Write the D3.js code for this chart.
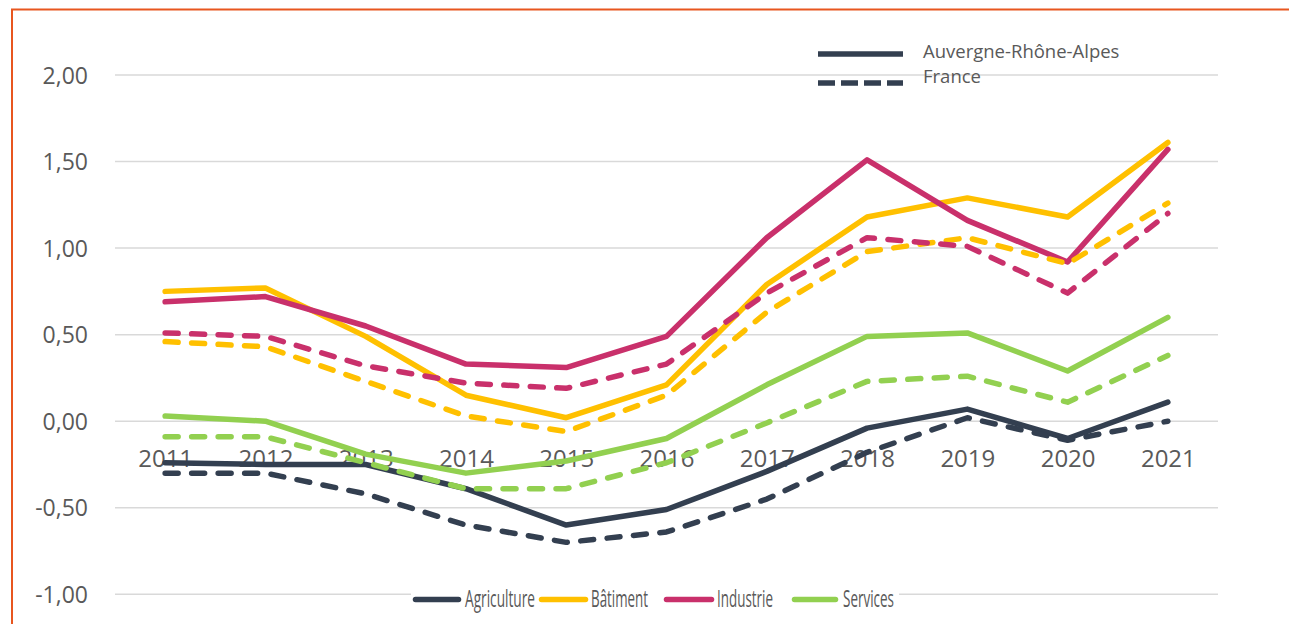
<!DOCTYPE html>
<html>
<head>
<meta charset="utf-8">
<script src="https://cdn.jsdelivr.net/npm/d3@7"></script>
<style>
  html, body { margin: 0; padding: 0; background: #fff; }
  #chart { width: 1289px; height: 624px; }
  text { font-family: "Open Sans", sans-serif; fill: #595959; }
</style>
</head>
<body>
<div id="chart"></div>
<script>
// Data
let years = ['2011', '2012', '2013', '2014', '2015', '2016', '2017', '2018', '2019', '2020', '2021']
let yTicks = [-1, -0.5, 0, 0.5, 1, 1.5, 2]

let agricultureAra = [-0.24, -0.25, -0.25, -0.39, -0.60, -0.51, -0.29, -0.04, 0.07, -0.10, 0.11]
let batimentAra = [0.75, 0.77, 0.49, 0.15, 0.02, 0.21, 0.79, 1.18, 1.29, 1.18, 1.61]
let industrieAra = [0.69, 0.72, 0.55, 0.33, 0.31, 0.49, 1.06, 1.51, 1.16, 0.92, 1.57]
let servicesAra = [0.03, 0.00, -0.19, -0.30, -0.23, -0.10, 0.21, 0.49, 0.51, 0.29, 0.60]

let agricultureFr = [-0.30, -0.30, -0.42, -0.60, -0.70, -0.64, -0.45, -0.18, 0.02, -0.11, 0.00]
let batimentFr = [0.46, 0.43, 0.23, 0.03, -0.06, 0.15, 0.63, 0.98, 1.06, 0.91, 1.26]
let industrieFr = [0.51, 0.49, 0.32, 0.22, 0.19, 0.33, 0.74, 1.06, 1.01, 0.74, 1.20]
let servicesFr = [-0.09, -0.09, -0.24, -0.39, -0.39, -0.24, -0.01, 0.23, 0.26, 0.11, 0.38]

let sectors = ['Agriculture', 'Bâtiment', 'Industrie', 'Services']
let sectorColors = ['#333F50', '#FFC000', '#C9306B', '#92D050']
let scopeLabels = ['Auvergne-Rhône-Alpes', 'France']

let araSeries = [agricultureAra, batimentAra, industrieAra, servicesAra]
let frSeries = [agricultureFr, batimentFr, industrieFr, servicesFr]

let width = 1289
let height = 624
let plotLeft = 115
let plotRight = 1218
let plotTop = 75
let plotBottom = 594.3

let svg = d3.select('#chart')
  .append('svg')
    .attr('width', width)
    .attr('height', height)

// Orange frame (top and left edges visible)
svg.append('path')
  .attr('d', `M12,${height} L12,9.5 L${width},9.5`)
  .attr('fill', 'none')
  .attr('stroke', '#E8561F')
  .attr('stroke-width', 2)

let xScale = d3.scalePoint().domain(years).range([plotLeft, plotRight]).padding(0.5)
let yScale = d3.scaleLinear().domain([-1, 2]).range([plotBottom, plotTop])

let fmt = (d) => d3.format('.2f')(d).replace('.', ',').replace('−', '-')

// Gridlines
svg.append('g')
  .selectAll('line')
  .data(yTicks)
  .enter().append('line')
    .attr('x1', plotLeft)
    .attr('x2', plotRight)
    .attr('y1', (d) => yScale(d))
    .attr('y2', (d) => yScale(d))
    .attr('stroke', '#D9D9D9')
    .attr('stroke-width', 1.5)

// Y axis labels
let yAxis = svg.append('g')
  .attr('transform', `translate(${plotLeft - 27}, 0)`)
  .call(d3.axisLeft(yScale).tickValues(yTicks).tickFormat(fmt).tickSize(0).tickPadding(0))
yAxis.select('.domain').remove()
yAxis.selectAll('text')
  .attr('font-family', '"Open Sans", sans-serif')
  .attr('font-size', 23)
  .attr('fill', '#595959')
  .attr('dy', '0.35em')

// X axis labels, sitting under the zero line
let xAxis = svg.append('g')
  .attr('transform', `translate(0, ${yScale(0)})`)
  .call(d3.axisBottom(xScale).tickSize(0).tickPadding(0))
xAxis.select('.domain').remove()
xAxis.selectAll('text')
  .attr('font-family', '"Open Sans", sans-serif')
  .attr('font-size', 24)
  .attr('fill', '#595959')
  .attr('dy', null)
  .attr('y', 46)

let line = d3.line()
  .x((d, i) => xScale(years[i]))
  .y((d) => yScale(d))

// Solid lines: Auvergne-Rhône-Alpes
araSeries.forEach((values, i) => {
  svg.append('path')
    .datum(values)
    .attr('d', line)
    .attr('fill', 'none')
    .attr('stroke', sectorColors[i])
    .attr('stroke-width', 5.5)
    .attr('stroke-linejoin', 'round')
    .attr('stroke-linecap', 'round')
})

// Dashed lines: France
frSeries.forEach((values, i) => {
  svg.append('path')
    .datum(values)
    .attr('d', line)
    .attr('fill', 'none')
    .attr('stroke', sectorColors[i])
    .attr('stroke-width', 5.5)
    .attr('stroke-dasharray', '13,13.5')
    .attr('stroke-linejoin', 'round')
    .attr('stroke-linecap', 'round')
})

// Top legend (line style)
let styleLegend = svg.append('g')
scopeLabels.forEach((label, i) => {
  let ly = i === 0 ? 54 : 83
  styleLegend.append('line')
    .attr('x1', 818)
    .attr('x2', 903)
    .attr('y1', ly)
    .attr('y2', ly)
    .attr('stroke', '#333F50')
    .attr('stroke-width', 5.5)
    .attr('stroke-dasharray', i === 0 ? null : '17,6')
  styleLegend.append('text')
    .attr('x', 923)
    .attr('y', i === 0 ? 58 : 83)
    .attr('font-size', 18.5)
    .text(label)
})

// Bottom legend (sectors)
let sectorLegend = svg.append('g')
sectorLegend.append('rect')
  .attr('x', 411)
  .attr('y', 586)
  .attr('width', 488)
  .attr('height', 28)
  .attr('fill', '#fff')

let legendLineX = [[413, 461], [539, 588], [664, 714], [792, 838]]
let legendTextX = [[465, 535], [591, 648], [717, 773], [843, 894]]
sectors.forEach((name, i) => {
  sectorLegend.append('line')
    .attr('x1', legendLineX[i][0] + 2.5)
    .attr('x2', legendLineX[i][1] - 2.5)
    .attr('y1', 599.5)
    .attr('y2', 599.5)
    .attr('stroke', sectorColors[i])
    .attr('stroke-width', 5.5)
    .attr('stroke-linecap', 'round')
  sectorLegend.append('text')
    .attr('x', legendTextX[i][0])
    .attr('y', 607)
    .attr('font-size', 23)
    .attr('textLength', legendTextX[i][1] - legendTextX[i][0])
    .attr('lengthAdjust', 'spacingAndGlyphs')
    .text(name)
})
</script>
</body>
</html>
